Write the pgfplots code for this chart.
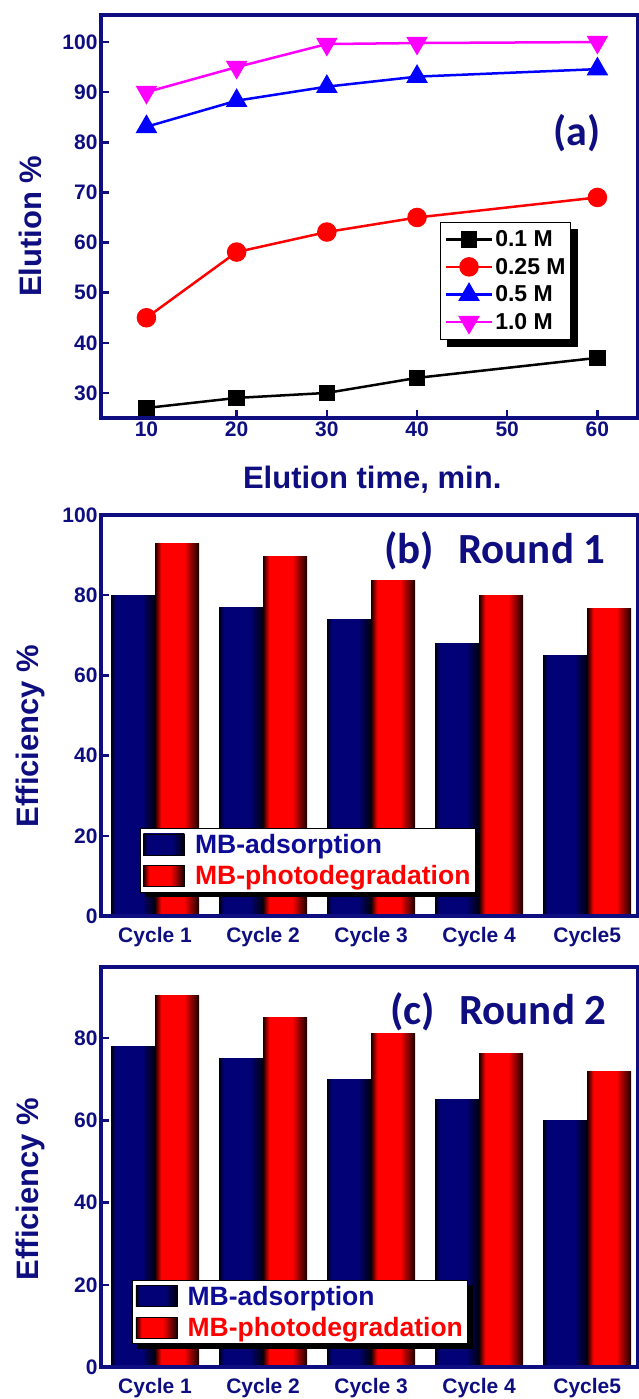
\documentclass[border=0pt]{standalone}
\usepackage{fontspec}
\setmainfont{Liberation Sans}
\newfontfamily\calibri{Carlito}
\usepackage{pgfplots}
\pgfplotsset{compat=1.18}

\definecolor{navy}{RGB}{14,14,128}
\definecolor{legblue}{RGB}{12,12,150}
\definecolor{barblue}{RGB}{2,2,118}
\definecolor{bardark}{RGB}{0,0,12}
\definecolor{redbright}{RGB}{255,0,0}
\definecolor{reddark}{RGB}{22,0,0}
\definecolor{magent}{RGB}{255,0,255}

% cylinder-like bar shadings: dark edges, flat bright middle
% (the path spans 25bp..75bp of the shading)
\pgfdeclarehorizontalshading{bluebar}{100bp}{color(0bp)=(bardark); color(25bp)=(bardark);
  color(30bp)=(barblue); color(60bp)=(barblue); color(75bp)=(bardark); color(100bp)=(bardark)}
\pgfdeclarehorizontalshading{redbar}{100bp}{color(0bp)=(reddark); color(25bp)=(reddark);
  color(32bp)=(redbright); color(58bp)=(redbright); color(75bp)=(reddark); color(100bp)=(reddark)}

\pgfplotsset{
  panel/.style={
    scale only axis, anchor=south west, width=537pt,
    axis on top,
    axis line style={navy, line width=3.5pt},
    tick style={navy, line width=2.5pt},
    tick align=inside, major tick length=8pt,
    xtick pos=bottom, ytick pos=left,
    /pgf/number format/assume math mode=true,
    ticklabel style={font=\fontsize{21}{21}\selectfont\bfseries, text=navy},
    label style={font=\fontsize{31}{31}\selectfont\bfseries, text=navy},
  },
  barpanel/.style={
    panel, ybar, bar width=44pt,
    xmin=0.5, xmax=5.47, ymin=0,
    xtick={1,2,3,4,5},
    xticklabels={Cycle 1,Cycle 2,Cycle 3,Cycle 4,Cycle5},
    x tick style={draw=none},
    ylabel={Efficiency \%},
    legend cell align=left,
    legend image code/.code={\draw[##1, draw=black, line width=0.6pt] (0pt,-10.5pt) rectangle (41pt,10.5pt);},
    legend style={anchor=north west, draw=black, line width=0.8pt, fill=white,
      font=\fontsize{26.5}{26.5}\selectfont\bfseries, row sep=8pt, column sep=9pt,
      inner xsep=3pt, inner ysep=4pt, nodes={inner sep=1.5pt}},
  },
  linelegend/.style={
    legend cell align=left,
    legend image code/.code={\draw[mark repeat=2, mark phase=2, ##1] plot coordinates {(0pt,0pt) (23pt,0pt) (46pt,0pt)};},
  },
  adsorb/.style={draw=none, shading=bluebar, bar shift=-22pt},
  photo/.style={draw=none, shading=redbar, bar shift=22pt},
}

% black shadow strips along the lower and right edges of a legend box
\newcommand\legendshadow[2]{%
  \fill[black] ([xshift=#2,yshift=-#2]#1.south west) rectangle ([xshift=#2]#1.south east);
  \fill[black] ([yshift=-#2]#1.north east) rectangle ([xshift=#2]#1.south east);
}

\begin{document}
\begin{tikzpicture}

% (a) elution percentage against elution time
\begin{axis}[panel, linelegend, at={(101pt,981pt)}, height=403pt,
    xmin=4.96, xmax=64.5, ymin=25, ymax=105.4,
    xtick={10,20,...,60}, ytick={30,40,...,100},
    xlabel={Elution time, min.}, ylabel={Elution \%},
    xlabel style={at={(axis description cs:0.505,-0.154)}, anchor=center},
    ylabel style={at={(axis description cs:-0.132,0.476)}, anchor=center},
    legend style={name=legA, at={(axis description cs:0.632,0.486)}, anchor=north west,
      draw=black, line width=0.8pt, fill=white,
      font=\fontsize{23}{23}\selectfont\bfseries, row sep=8pt, column sep=1pt,
      inner xsep=4pt, inner ysep=7pt, nodes={inner sep=1pt}},
  ]
  \addplot[black, line width=2.5pt, mark=square*, mark size=7pt, mark options={solid}]
    coordinates {(10,27) (20,29) (30,30) (40,33) (60,37)};
  \addlegendentry{0.1 M}
  \addplot[red, line width=2.5pt, mark=*, mark size=8.5pt, mark options={solid}]
    coordinates {(10,45) (20,58.1) (30,62.1) (40,65) (60,69)};
  \addlegendentry{0.25 M}
  \addplot[blue, line width=2.5pt, mark=triangle*, mark size=10pt, mark options={solid}]
    coordinates {(10,83.1) (20,88.3) (30,91.1) (40,93.1) (60,94.6)};
  \addlegendentry{0.5 M}
  \addplot[magent, line width=2.5pt, mark=triangle*, mark size=10pt, mark options={solid, rotate=180}]
    coordinates {(10,90) (20,95) (30,99.6) (40,99.8) (60,100)};
  \addlegendentry{1.0 M}
  \node[font=\calibri\fontsize{42}{42}\selectfont\bfseries, text=navy]
    at (axis description cs:0.886,0.707) {(a)};
\end{axis}
\legendshadow{legA}{7pt}

% (b) first round of reuse; each bar is its own path so that it gets its own shading
\begin{axis}[barpanel, at={(101pt,483pt)}, height=401pt,
    ymax=100, ytick={0,20,...,100},
    ylabel style={at={(axis description cs:-0.132,0.449)}, anchor=center},
    legend style={name=legB, at={(axis description cs:0.072,0.219)}},
  ]
  \addplot[adsorb] coordinates {(1,80)};
  \addlegendentry{\textcolor{legblue}{MB-adsorption}}
  \addplot[photo] coordinates {(1,93)};
  \addlegendentry{\textcolor{redbright}{MB-photodegradation}}
  \addplot[adsorb, forget plot] coordinates {(2,77)};
  \addplot[adsorb, forget plot] coordinates {(3,74)};
  \addplot[adsorb, forget plot] coordinates {(4,68)};
  \addplot[adsorb, forget plot] coordinates {(5,65)};
  \addplot[photo, forget plot] coordinates {(2,89.6)};
  \addplot[photo, forget plot] coordinates {(3,83.6)};
  \addplot[photo, forget plot] coordinates {(4,80)};
  \addplot[photo, forget plot] coordinates {(5,76.8)};
  \node[font=\calibri\fontsize{43}{43}\selectfont\bfseries, text=navy, anchor=base east]
    at (axis description cs:0.946,0.880) {(b)\hspace{24pt}Round 1};
\end{axis}
\legendshadow{legB}{5pt}

% (c) second round of reuse
\begin{axis}[barpanel, at={(101pt,32pt)}, height=400pt,
    ymax=97.3, ytick={0,20,...,80},
    ylabel style={at={(axis description cs:-0.132,0.445)}, anchor=center},
    legend style={name=legC, at={(axis description cs:0.058,0.2175)}},
  ]
  \addplot[adsorb] coordinates {(1,78)};
  \addlegendentry{\textcolor{legblue}{MB-adsorption}}
  \addplot[photo] coordinates {(1,90.3)};
  \addlegendentry{\textcolor{redbright}{MB-photodegradation}}
  \addplot[adsorb, forget plot] coordinates {(2,75)};
  \addplot[adsorb, forget plot] coordinates {(3,70)};
  \addplot[adsorb, forget plot] coordinates {(4,65)};
  \addplot[adsorb, forget plot] coordinates {(5,60)};
  \addplot[photo, forget plot] coordinates {(2,85)};
  \addplot[photo, forget plot] coordinates {(3,81.2)};
  \addplot[photo, forget plot] coordinates {(4,76.2)};
  \addplot[photo, forget plot] coordinates {(5,72)};
  \node[font=\calibri\fontsize{43}{43}\selectfont\bfseries, text=navy, anchor=base east]
    at (axis description cs:0.948,0.855) {(c)\hspace{24pt}Round 2};
\end{axis}
\legendshadow{legC}{5pt}

\pgfresetboundingbox
\useasboundingbox (0pt,0pt) rectangle (638pt,1399pt);
\end{tikzpicture}
\end{document}
